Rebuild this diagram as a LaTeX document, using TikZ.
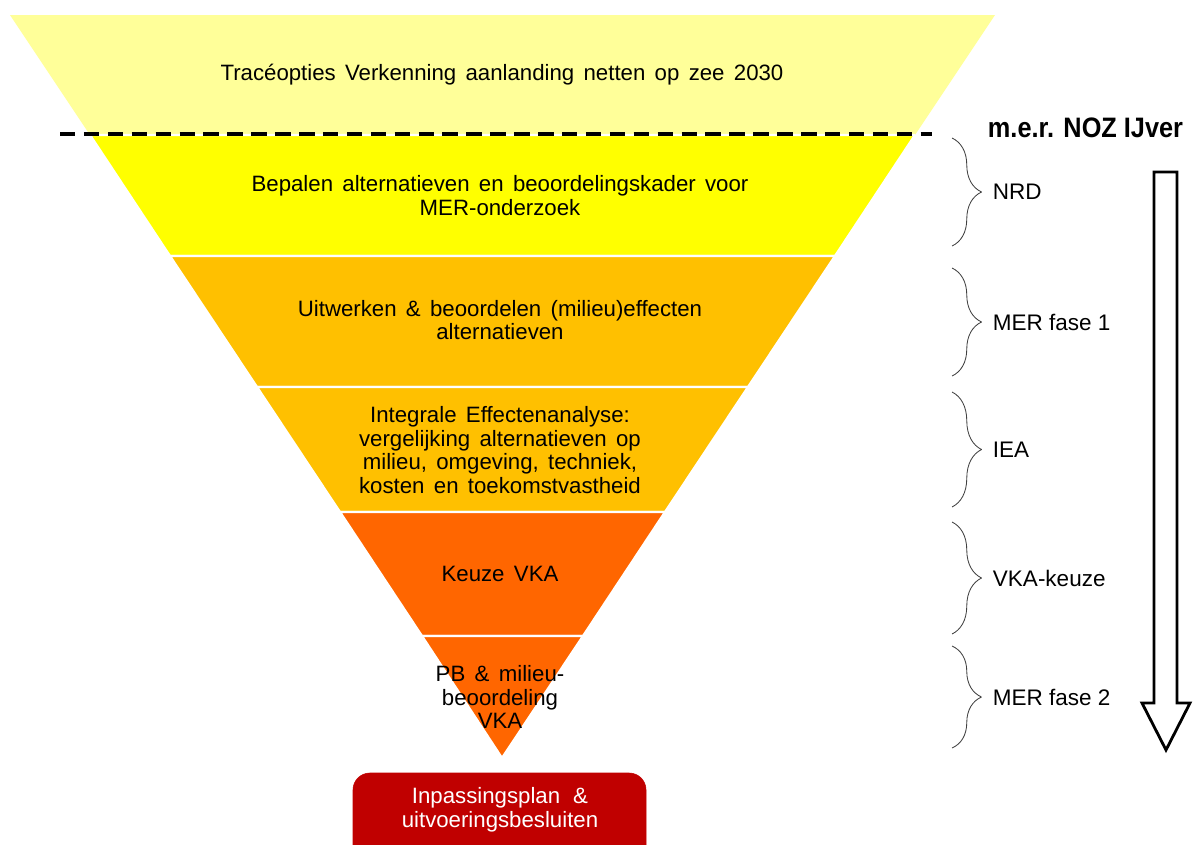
\documentclass[tikz,border=0pt]{standalone}
\usepackage{fontspec}
\setmainfont{Liberation Sans}
\usetikzlibrary{decorations.pathreplacing}

\definecolor{paleyellow}{HTML}{FFFF99}
\definecolor{fullyellow}{HTML}{FFFF00}
\definecolor{amber}{HTML}{FFC000}
\definecolor{deeporange}{HTML}{FF6600}
\definecolor{darkred}{HTML}{C00000}

\newcommand{\funnelfont}{\fontsize{15.8}{17}\selectfont\spaceskip 0.42em plus 0.1em\relax}

\begin{document}
\begin{tikzpicture}[x=0.025cm,y=-0.025cm,line join=bevel,
  layer/.style={draw=white,line width=1.6pt},
  txt/.style={align=center,font=\funnelfont},
  phase/.style={decorate,decoration={brace,amplitude=21pt},draw=black!75,line width=0.6pt},
  phaselbl/.style={anchor=west,font=\fontsize{16}{18}\selectfont}]
  \useasboundingbox (0,0) rectangle (1195,844);

  % funnel corners
  \coordinate (t0) at (10,15);
  \coordinate (t1) at (995,15);
  \coordinate (apex) at (502,758);

  \coordinate (l1) at (90,135);   \coordinate (r1) at (915,135);
  \coordinate (l2) at (170,256);  \coordinate (r2) at (835,256);
  \coordinate (l3) at (257,387);  \coordinate (r3) at (748,387);
  \coordinate (l4) at (340,512);  \coordinate (r4) at (665,512);
  \coordinate (l5) at (422,636);  \coordinate (r5) at (583,636);

  \fill[paleyellow] (t0) -- (t1) -- (r1) -- (l1) -- cycle;
  \filldraw[layer,fill=fullyellow] (l1) -- (r1) -- (r2) -- (l2) -- cycle;
  \filldraw[layer,fill=amber] (l2) -- (r2) -- (r3) -- (l3) -- cycle;
  \filldraw[layer,fill=amber] (l3) -- (r3) -- (r4) -- (l4) -- cycle;
  \filldraw[layer,fill=deeporange] (l4) -- (r4) -- (r5) -- (l5) -- cycle;
  \filldraw[layer,fill=deeporange] (l5) -- (r5) -- (apex) -- cycle;

  \coordinate (d0) at (60,134);
  \coordinate (d1) at (932,134);
  \draw[line width=3pt,dash pattern=on 11pt off 6pt] (d0) -- (d1);

  \node[txt] (verk) at (502,75) {Tracéopties Verkenning aanlanding netten op zee 2030};
  \node[txt] (nrd) at (500,196) {Bepalen alternatieven en beoordelingskader voor\\MER-onderzoek};
  \node[txt] (fase1) at (500,320) {Uitwerken \& beoordelen (milieu)effecten\\alternatieven};
  \node[txt] (iea) at (500,450) {Integrale Effectenanalyse:\\vergelijking alternatieven op\\milieu, omgeving, techniek,\\kosten en toekomstvastheid};
  \node[txt] (vka) at (500,574) {Keuze VKA};
  \node[txt] (fase2) at (500,697) {PB \& milieu-\\beoordeling\\VKA};

  \draw[darkred,fill=darkred,rounded corners=12pt] (353,773) rectangle (646,870);
  \node[txt,text=white] (besluit) at (500,810) {Inpassingsplan \,\&\\uitvoeringsbesluiten};

  \node[anchor=west,font=\fontsize{20}{22}\selectfont\bfseries] (mer) at (983,128) {\scalebox{0.9}[1]{m.e.r. NOZ IJver}};

  % phase braces
  \coordinate (b1a) at (952,138);  \coordinate (b1b) at (952,246);
  \coordinate (b2a) at (952,268);  \coordinate (b2b) at (952,376);
  \coordinate (b3a) at (952,392);  \coordinate (b3b) at (952,507);
  \coordinate (b4a) at (952,522);  \coordinate (b4b) at (952,634);
  \coordinate (b5a) at (952,646);  \coordinate (b5b) at (952,748);
  \draw[phase] (b1a) -- (b1b);
  \draw[phase] (b2a) -- (b2b);
  \draw[phase] (b3a) -- (b3b);
  \draw[phase] (b4a) -- (b4b);
  \draw[phase] (b5a) -- (b5b);
  \node[phaselbl] (p1) at (988,192) {NRD};
  \node[phaselbl] (p2) at (988,322) {MER fase 1};
  \node[phaselbl] (p3) at (988,450) {IEA};
  \node[phaselbl] (p4) at (988,578) {VKA-keuze};
  \node[phaselbl] (p5) at (988,697) {MER fase 2};

  % time arrow
  \draw[line width=2pt,line join=miter,fill=white] (1154,172) -- (1177,172) -- (1177,703)
    -- (1190,703) -- (1166,750) -- (1142,703) -- (1154,703) -- cycle;
\end{tikzpicture}
\end{document}
